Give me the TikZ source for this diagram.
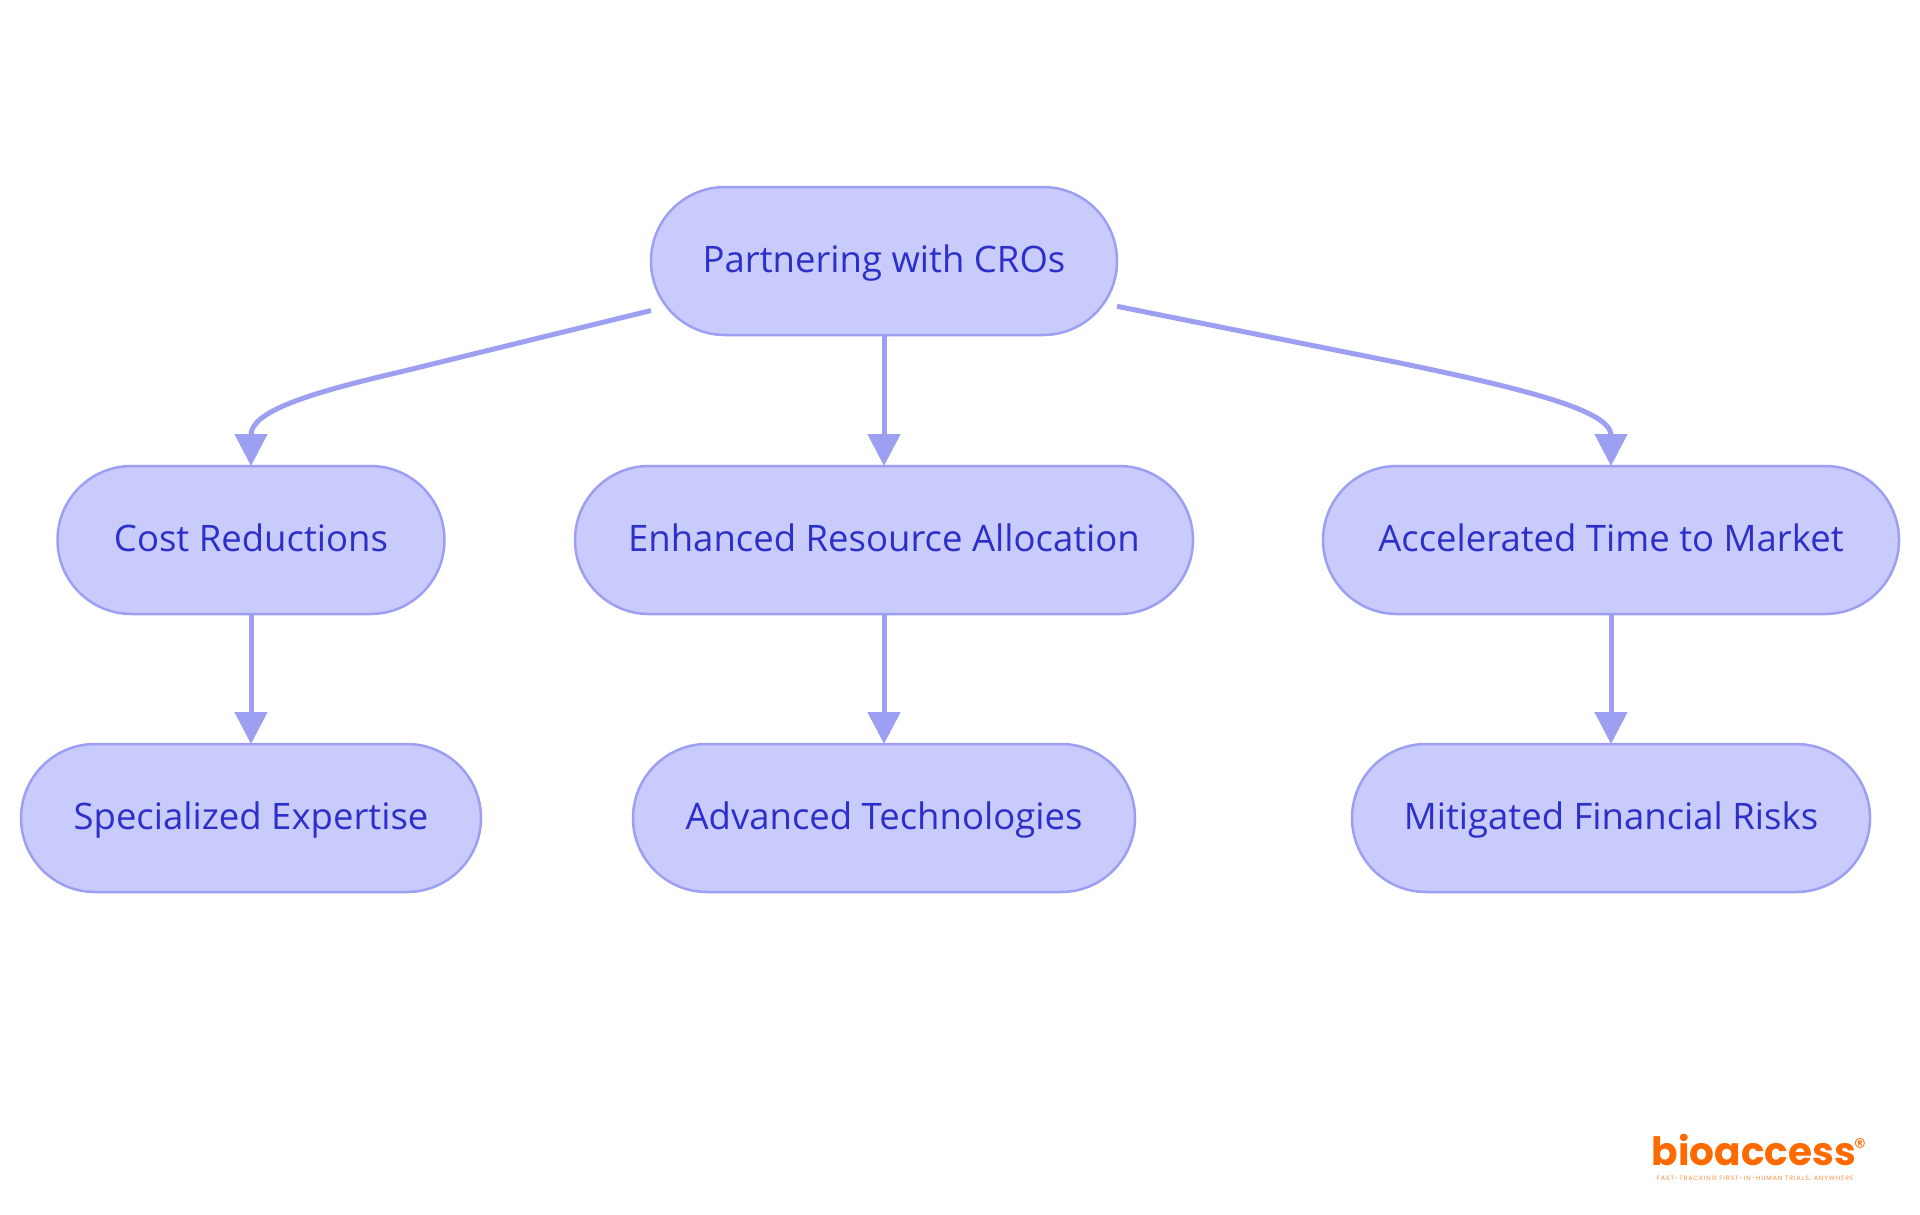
\documentclass[tikz,border=0pt]{standalone}
\usepackage{fontspec}
\setmainfont{Open Sans}
\newfontfamily\logofont{Poppins}
\newfontfamily\tagfont[LetterSpace=14.5]{Poppins}
\usetikzlibrary{arrows.meta}
\definecolor{pillfill}{HTML}{C9CBFD}
\definecolor{pillline}{HTML}{9C9FF2}
\definecolor{pilltext}{HTML}{2C30C8}
\definecolor{logoorange}{HTML}{FF6A00}
\tikzset{
    pill/.style={rectangle, rounded corners=74pt, fill=pillfill, draw=pillline, line width=2.5pt,
        text=pilltext, minimum height=148pt, inner sep=0pt, outer sep=0pt, text height=28pt, text depth=6pt,
        font=\fontsize{36.5}{42}\selectfont},
    flow/.style={draw=pillline, line width=5pt, -{Triangle[length=32pt,width=32pt]}}
}
\begin{document}
\begin{tikzpicture}[x=1pt,y=-1pt]
    \useasboundingbox (0,0) rectangle (1920,1215);

    \begin{scope}[every node/.style={pill}]
        \node[minimum width=466pt] (crm) at (884,261) {Partnering with CROs};

        \node[minimum width=387pt] (cost) at (251,540) {Cost Reductions};
        \node[minimum width=618pt] (alloc) at (884,540) {Enhanced Resource Allocation};
        \node[minimum width=576pt] (time) at (1611,540) {Accelerated Time to Market};

        \node[minimum width=460pt] (exp) at (251,818) {Specialized Expertise};
        \node[minimum width=502pt] (tech) at (884,818) {Advanced Technologies};
        \node[minimum width=518pt] (risk) at (1611,818) {Mitigated Financial Risks};
    \end{scope}

    \coordinate (costbend) at (400,372);
    \coordinate (timebend) at (1400,363);

    \path[flow] (crm.192.3) -- (costbend) .. controls (305,394) and (251,412) .. (cost.north);
    \path[flow] (crm.south) -- (alloc.north);
    \path[flow] (crm.-11.5) -- (timebend) .. controls (1520,388) and (1611,410) .. (time.north);

    \path[flow] (cost.south) -- (exp.north);
    \path[flow] (alloc.south) -- (tech.north);
    \path[flow] (time.south) -- (risk.north);

    % logo
    \node[text=logoorange, inner sep=0pt, font=\logofont\bfseries\fontsize{39}{40}\selectfont] (logo) at (1754,1150) {bioaccess};
    \node[text=logoorange, inner sep=0pt, font=\logofont\fontsize{24}{24}\selectfont] (mark) at (1860,1147) {®};
    \node[text=logoorange!75, inner sep=0pt, font=\tagfont\fontsize{6.3}{7}\selectfont] (tag) at (1755,1178.5) {FAST-TRACKING FIRST-IN-HUMAN TRIALS, ANYWHERE};
\end{tikzpicture}
\end{document}
